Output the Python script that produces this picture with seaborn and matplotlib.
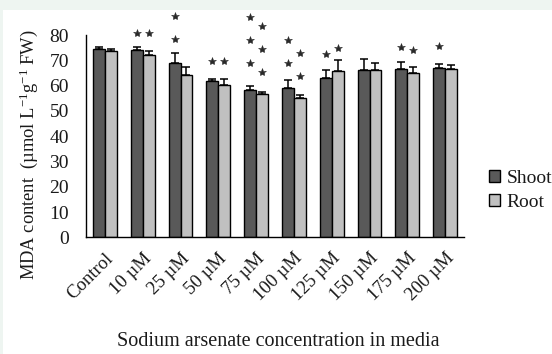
import matplotlib
matplotlib.use("Agg")
import matplotlib.pyplot as plt
import seaborn as sns
import pandas as pd
import numpy as np
from matplotlib.patches import Patch

categories = ["Control", "10 µM", "25 µM", "50 µM", "75 µM", "100 µM",
              "125 µM", "150 µM", "175 µM", "200 µM"]
shoot = [74.4, 74.1, 69.1, 61.7, 58.3, 59.2, 63.1, 66.1, 66.6, 67.1]
root = [73.6, 72.1, 64.1, 60.3, 56.6, 54.9, 65.7, 66.1, 65.1, 66.6]
shoot_err = [1.0, 1.3, 3.9, 0.9, 1.4, 2.9, 3.0, 4.4, 2.9, 1.6]
root_err = [0.7, 1.7, 3.4, 2.3, 0.9, 1.3, 4.3, 3.0, 2.4, 1.4]
# significance stars: count and height of the lowest star
shoot_star_n = [0, 1, 2, 1, 3, 2, 1, 0, 1, 1]
shoot_star_y = [0, 80.8, 78.4, 69.7, 68.9, 69.0, 72.4, 0, 75.1, 75.8]
root_star_n = [0, 1, 0, 1, 3, 2, 1, 0, 1, 0]
root_star_y = [0, 80.8, 0, 69.7, 65.5, 63.9, 74.7, 0, 74.1, 0]
series_names = ["Shoot", "Root"]

sns.set_style("white")
plt.rcParams["font.family"] = ["Liberation Serif", "DejaVu Serif"]
plt.rcParams["mathtext.fontset"] = "custom"
plt.rcParams["mathtext.rm"] = "Liberation Serif"
plt.rcParams["mathtext.it"] = "Liberation Serif:italic"

df = pd.DataFrame({
    "cat": categories * 2,
    "val": shoot + root,
    "series": [series_names[0]] * len(categories) + [series_names[1]] * len(categories),
})

W, H = 552, 354
fig = plt.figure(figsize=(W / 100, H / 100), dpi=100)
fig.patch.set_facecolor("#eef5f1")
fig.add_artist(plt.Rectangle((3 / W, 0), 1, 1 - 10 / H, transform=fig.transFigure,
                             facecolor="white", edgecolor="none", zorder=-10))

ax = fig.add_axes([86 / W, (H - 237.3) / H, (464 - 86) / W, (237.3 - 10) / H])
ax.set_facecolor("none")
palette = {"Shoot": "#595959", "Root": "#c0c0c0"}
sns.barplot(data=df, x="cat", y="val", hue="series", palette=palette,
            width=0.634, edgecolor="black", linewidth=1.0, saturation=1,
            errorbar=None, legend=False, ax=ax)

n = len(categories)
bars = ax.patches[:2 * n]
xs_s = [b.get_x() + b.get_width() / 2 for b in bars[:n]]
xs_r = [b.get_x() + b.get_width() / 2 for b in bars[n:]]

for xs, vals, errs in [(xs_s, shoot, shoot_err), (xs_r, root, root_err)]:
    ax.errorbar(xs, vals, yerr=[np.zeros(n), errs], fmt="none", ecolor="black",
                elinewidth=1.1, capsize=3.2, capthick=1.1, zorder=5)

step = 9.1
for xs, cnt, y0 in [(xs_s, shoot_star_n, shoot_star_y), (xs_r, root_star_n, root_star_y)]:
    for x, c, y in zip(xs, cnt, y0):
        for k in range(c):
            ax.plot(x, y + k * step, marker="*", color="#2a2a2a", markersize=6,
                    markeredgewidth=0.4, clip_on=False, zorder=6)

ax.set_xlim(-0.5, n - 0.5)
ax.set_ylim(0, 89.9)
ax.set_yticks(range(0, 81, 10))
ax.set_xticks(range(n))
ax.set_xticklabels(categories, rotation=45, ha="right", va="top",
                   rotation_mode="anchor", fontsize=13.5)
ax.set_xticks(np.arange(-0.5, n, 1.0), minor=True)
ax.tick_params(axis="x", which="major", length=0, pad=9)
ax.tick_params(axis="x", which="minor", length=4, width=1, direction="out", color="black")
ax.tick_params(axis="y", length=4.3, width=1, direction="out", color="black",
               labelsize=14, pad=8)
for lab in ax.get_yticklabels() + ax.get_xticklabels():
    lab.set_color("#1a1a1a")

for s in ["top", "right"]:
    ax.spines[s].set_visible(False)
for s in ["left", "bottom"]:
    ax.spines[s].set_color("black")
    ax.spines[s].set_linewidth(1.0)
ax.spines["left"].set_bounds(0, 80)
ax.set_xlabel("")
ax.set_ylabel("")

fig.text(278 / W, 1 - 341 / H, "Sodium arsenate concentration in media",
         ha="center", va="center", fontsize=14.5, color="#1a1a1a")
fig.text(29 / W, 1 - 155 / H, r"MDA content  (µmol L$^{-1}$g$^{-1}$ FW)",
         ha="center", va="center", rotation=90, fontsize=13.3, color="#1a1a1a")

handles = [Patch(facecolor=palette[s], edgecolor="black", linewidth=1.0) for s in series_names]
leg = fig.legend(handles, series_names, loc="center left",
                 bbox_to_anchor=(489 / W, 1 - 190.5 / H), frameon=False,
                 fontsize=14, handlelength=0.55, handleheight=0.55,
                 handletextpad=0.35, labelspacing=0.38, borderpad=0, borderaxespad=0)
for t in leg.get_texts():
    t.set_color("#1a1a1a")

fig.savefig("out.png", dpi=100)
